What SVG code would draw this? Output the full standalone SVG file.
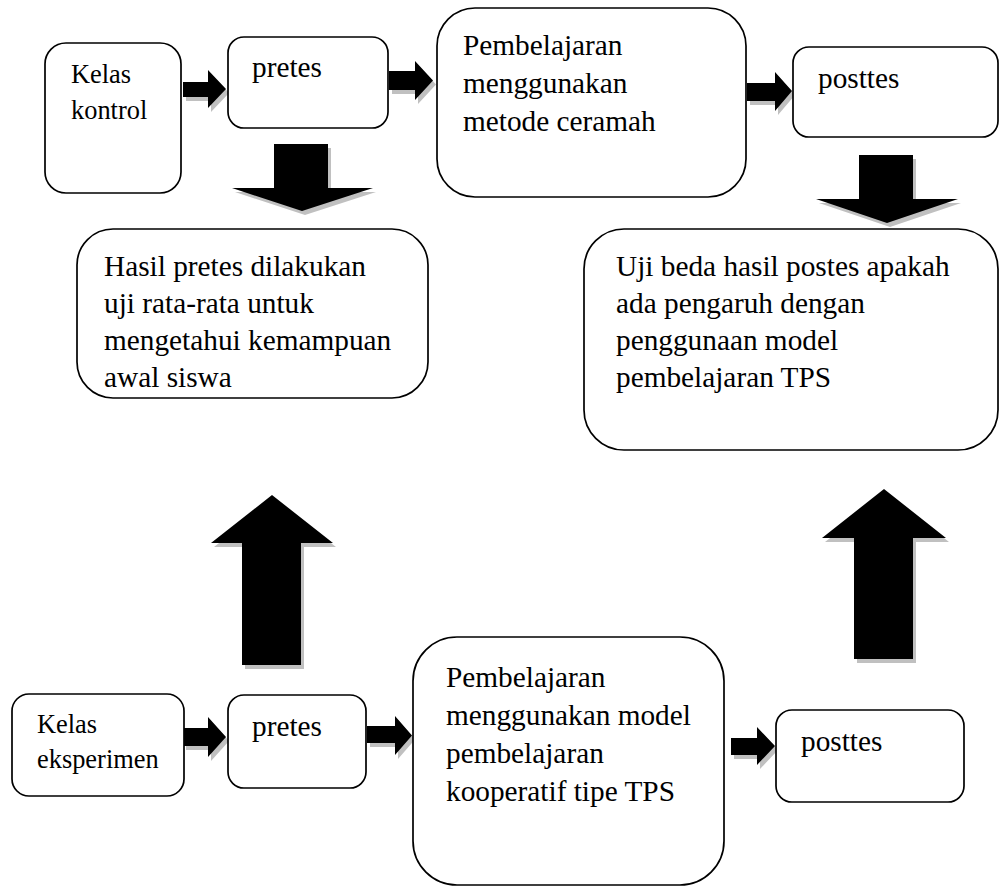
<svg xmlns="http://www.w3.org/2000/svg" xmlns:xlink="http://www.w3.org/1999/xlink" width="1000" height="887" viewBox="0 0 1000 887">
<style>
.box{fill:#fff;stroke:#000;stroke-width:1.7}
text{font-family:'Liberation Serif','Times New Roman','DejaVu Serif',serif;font-size:29.3px;fill:#000}
text.s{font-size:26.4px}
.arrow{fill:#000}
.shadow{fill:#c0c0c0}
</style>
<defs>
<polygon id="a1" points="183,82 208,82 208,70 226,89 208,108 208,97 183,97"/>
<polygon id="a2" points="389,71 415,71 415,61 433,80.5 415,100 415,90 389,90"/>
<polygon id="a3" points="747,83 775,83 775,72 792,91 775,111 775,101 747,101"/>
<polygon id="a4" points="183,728 208,728 208,717 226,737 208,757 208,746 183,746"/>
<polygon id="a5" points="367,726 395,726 395,716 412,735.5 395,755 395,743 367,743"/>
<polygon id="a6" points="731,738 757,738 757,727 775,746 757,765 757,755 731,755"/>
<polygon id="d1" points="274,144 328,144 328,188 373,188 302,211 232,188 274,188"/>
<polygon id="d2" points="859,155 913,155 913,199 958,199 887,223 816,199 859,199"/>
<polygon id="u1" points="272,495 333,543 301,543 301,665 242,665 242,543 211,543"/>
<polygon id="u2" points="884,489 946,538 913,538 913,659 854,659 854,538 822,538"/>
</defs>
<g id="connectors">
<g transform="translate(3,4)" class="shadow">
<use xlink:href="#a1"/><use xlink:href="#a2"/><use xlink:href="#a3"/>
<use xlink:href="#a4"/><use xlink:href="#a5"/><use xlink:href="#a6"/>
<use xlink:href="#d1"/><use xlink:href="#d2"/><use xlink:href="#u1"/><use xlink:href="#u2"/>
</g>
<g class="arrow">
<use xlink:href="#a1"/><use xlink:href="#a2"/><use xlink:href="#a3"/>
<use xlink:href="#a4"/><use xlink:href="#a5"/><use xlink:href="#a6"/>
<use xlink:href="#d1"/><use xlink:href="#d2"/><use xlink:href="#u1"/><use xlink:href="#u2"/>
</g>
</g>
<g id="kelas-kontrol">
<rect class="box" x="45" y="43" width="136" height="150" rx="21"/>
<text class="s" x="71" y="83">Kelas</text>
<text class="s" x="71" y="119">kontrol</text>
</g>
<g id="pretes-kontrol">
<rect class="box" x="228" y="37" width="160" height="91" rx="16"/>
<text x="252" y="77">pretes</text>
</g>
<g id="pembelajaran-ceramah">
<rect class="box" x="437" y="8" width="309" height="189" rx="38"/>
<text x="463" y="55">Pembelajaran</text>
<text x="463" y="93">menggunakan</text>
<text x="463" y="131">metode ceramah</text>
</g>
<g id="posttes-kontrol">
<rect class="box" x="793" y="47" width="205" height="90" rx="16"/>
<text x="818" y="88">posttes</text>
</g>
<g id="hasil-pretes">
<rect class="box" x="77" y="229" width="351" height="169" rx="36"/>
<text x="104" y="276">Hasil pretes dilakukan</text>
<text x="104" y="313">uji rata-rata untuk</text>
<text x="104" y="350">mengetahui kemampuan</text>
<text x="104" y="387">awal siswa</text>
</g>
<g id="uji-beda">
<rect class="box" x="584" y="229" width="414" height="221" rx="40"/>
<text x="616" y="276">Uji beda hasil postes apakah</text>
<text x="616" y="313">ada pengaruh dengan</text>
<text x="616" y="350">penggunaan model</text>
<text x="616" y="387">pembelajaran TPS</text>
</g>
<g id="kelas-eksperimen">
<rect class="box" x="12" y="694" width="172" height="102" rx="17"/>
<text class="s" x="37" y="733">Kelas</text>
<text class="s" x="37" y="768">eksperimen</text>
</g>
<g id="pretes-eksperimen">
<rect class="box" x="228" y="695" width="138" height="93" rx="16"/>
<text x="252" y="736">pretes</text>
</g>
<g id="pembelajaran-tps">
<rect class="box" x="413" y="637" width="311" height="248" rx="44"/>
<text x="446" y="687">Pembelajaran</text>
<text x="446" y="725">menggunakan model</text>
<text x="446" y="763">pembelajaran</text>
<text x="446" y="801">kooperatif tipe TPS</text>
</g>
<g id="posttes-eksperimen">
<rect class="box" x="776" y="710" width="188" height="92" rx="16"/>
<text x="801" y="751">posttes</text>
</g>
</svg>
